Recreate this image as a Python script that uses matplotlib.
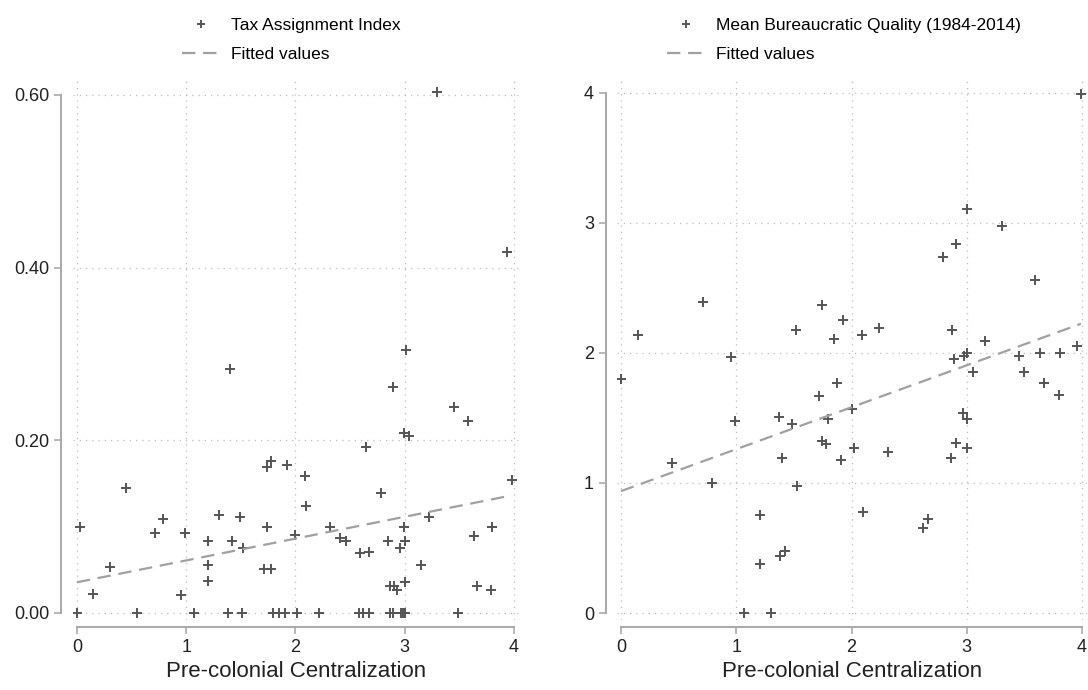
import numpy as np
import matplotlib.pyplot as plt

plt.rcParams['font.family'] = ['Liberation Sans', 'DejaVu Sans']

# Left panel: Tax Assignment Index vs pre-colonial centralization
tax_x = [0.00, 0.03, 0.15, 0.30, 0.45, 0.55, 0.71, 0.79, 0.95, 0.99,
         1.07, 1.20, 1.20, 1.20, 1.30, 1.40, 1.38, 1.42, 1.49, 1.52,
         1.51, 1.71, 1.78, 1.74, 1.74, 1.78, 1.79, 1.85, 1.90, 1.92,
         2.00, 2.01, 2.09, 2.10, 2.22, 2.32, 2.41, 2.46, 2.58, 2.62,
         2.67, 2.59, 2.67, 2.65, 2.78, 2.85, 2.87, 2.90, 2.93, 2.87,
         2.89, 2.89, 2.96, 2.97, 2.98, 3.00, 2.99, 3.00, 3.00, 2.99,
         3.04, 3.01, 3.15, 3.22, 3.30, 3.45, 3.49, 3.58, 3.63, 3.66,
         3.79, 3.80, 3.94, 3.98]
tax_y = [0.000, 0.100, 0.022, 0.053, 0.145, 0.000, 0.093, 0.109, 0.021, 0.093,
         0.000, 0.056, 0.037, 0.083, 0.114, 0.283, 0.000, 0.083, 0.111, 0.075,
         0.000, 0.051, 0.051, 0.100, 0.169, 0.176, 0.000, 0.000, 0.000, 0.171,
         0.090, 0.000, 0.159, 0.124, 0.000, 0.100, 0.087, 0.083, 0.000, 0.000,
         0.000, 0.069, 0.071, 0.192, 0.139, 0.083, 0.031, 0.031, 0.027, 0.000,
         0.000, 0.262, 0.075, 0.000, 0.000, 0.000, 0.100, 0.083, 0.036, 0.209,
         0.205, 0.305, 0.056, 0.111, 0.603, 0.239, 0.000, 0.222, 0.089, 0.031,
         0.027, 0.100, 0.418, 0.154]

# Right panel: Mean Bureaucratic Quality vs pre-colonial centralization
bq_x = [0.00, 0.15, 0.44, 0.71, 0.79, 0.95, 0.99, 1.07, 1.21, 1.21,
        1.30, 1.37, 1.38, 1.42, 1.40, 1.48, 1.52, 1.53, 1.72, 1.74,
        1.74, 1.78, 1.80, 1.85, 1.87, 1.91, 1.93, 2.00, 2.02, 2.09,
        2.10, 2.24, 2.32, 2.62, 2.66, 2.79, 2.86, 2.87, 2.89, 2.91,
        2.91, 2.97, 2.98, 3.00, 3.00, 3.00, 3.00, 3.05, 3.16, 3.31,
        3.45, 3.50, 3.59, 3.64, 3.67, 3.80, 3.81, 3.96, 3.99]
bq_y = [1.80, 2.14, 1.15, 2.39, 1.00, 1.97, 1.48, 0.00, 0.75, 0.38,
        0.00, 1.51, 0.44, 0.48, 1.19, 1.45, 2.18, 0.98, 1.67, 2.37,
        1.32, 1.30, 1.49, 2.11, 1.77, 1.18, 2.25, 1.57, 1.27, 2.14,
        0.78, 2.19, 1.24, 0.65, 0.72, 2.74, 1.19, 2.18, 1.95, 2.84,
        1.31, 1.54, 1.98, 2.00, 1.49, 1.27, 3.11, 1.85, 2.09, 2.98,
        1.98, 1.85, 2.56, 2.00, 1.77, 1.68, 2.00, 2.05, 3.99]

x_ticks = [0, 1, 2, 3, 4]
tax_ticks = [0.0, 0.2, 0.4, 0.6]
tax_ticklabels = ['0.00', '0.20', '0.40', '0.60']
bq_ticks = [0, 1, 2, 3, 4]

marker_color = '#555555'
fit_color = '#a0a0a0'
axis_color = '#ababab'

fig = plt.figure(figsize=(10.88, 6.9), dpi=100)
ax1 = fig.add_axes([0.0667, 0.1016, 0.4107, 0.7859])
ax2 = fig.add_axes([0.5671, 0.1016, 0.4316, 0.7859])


def draw_panel(ax, x, y, label, ticks, ticklabels, xlim, ylim, leg_x):
    x = np.array(x)
    y = np.array(y)
    ax.plot(x, y, linestyle='none', marker='+', color=marker_color,
            markersize=7, markeredgewidth=1.4, label=label)
    # linear fit, like Stata's lfit
    b, a = np.polyfit(x, y, 1)
    xs = np.array([x.min(), x.max()])
    ax.plot(xs, a + b * xs, linestyle=(0, (6, 3.5)), color=fit_color,
            linewidth=1.6, label='Fitted values')
    ax.set_xlim(*xlim)
    ax.set_ylim(*ylim)
    ax.set_xticks(x_ticks)
    ax.set_yticks(ticks)
    ax.set_yticklabels(ticklabels)
    ax.grid(True, linestyle=(0, (1, 4)), color='#bdbdbd', linewidth=0.9)
    ax.set_axisbelow(True)
    for s in ['top', 'right']:
        ax.spines[s].set_visible(False)
    ax.spines['left'].set_position(('outward', 8))
    ax.spines['bottom'].set_position(('outward', 5))
    ax.spines['left'].set_bounds(ticks[0], ticks[-1])
    ax.spines['bottom'].set_bounds(0, 4)
    for s in ['left', 'bottom']:
        ax.spines[s].set_color(axis_color)
        ax.spines[s].set_linewidth(1.5)
    ax.tick_params(axis='both', colors=axis_color, labelcolor='#222222',
                   labelsize=13, length=5, width=1.2)
    ax.set_xlabel('Pre-colonial Centralization', fontsize=16, color='#222222',
                  labelpad=4)
    leg = ax.legend(loc='upper center', bbox_to_anchor=(leg_x, 1.123),
                    frameon=False, fontsize=12.5, handlelength=2.2,
                    handletextpad=0.65, labelspacing=0.8, borderaxespad=0)
    leg.legend_handles[0].set_markersize(6)


draw_panel(ax1, tax_x, tax_y, 'Tax Assignment Index', tax_ticks,
           tax_ticklabels, (-0.04, 4.05), (-0.008, 0.62), 0.49)
draw_panel(ax2, bq_x, bq_y, 'Mean Bureaucratic Quality (1984-2014)', bq_ticks,
           [str(t) for t in bq_ticks], (-0.035, 4.04), (-0.053, 4.118), 0.483)

fig.savefig('out.png', dpi=100)
